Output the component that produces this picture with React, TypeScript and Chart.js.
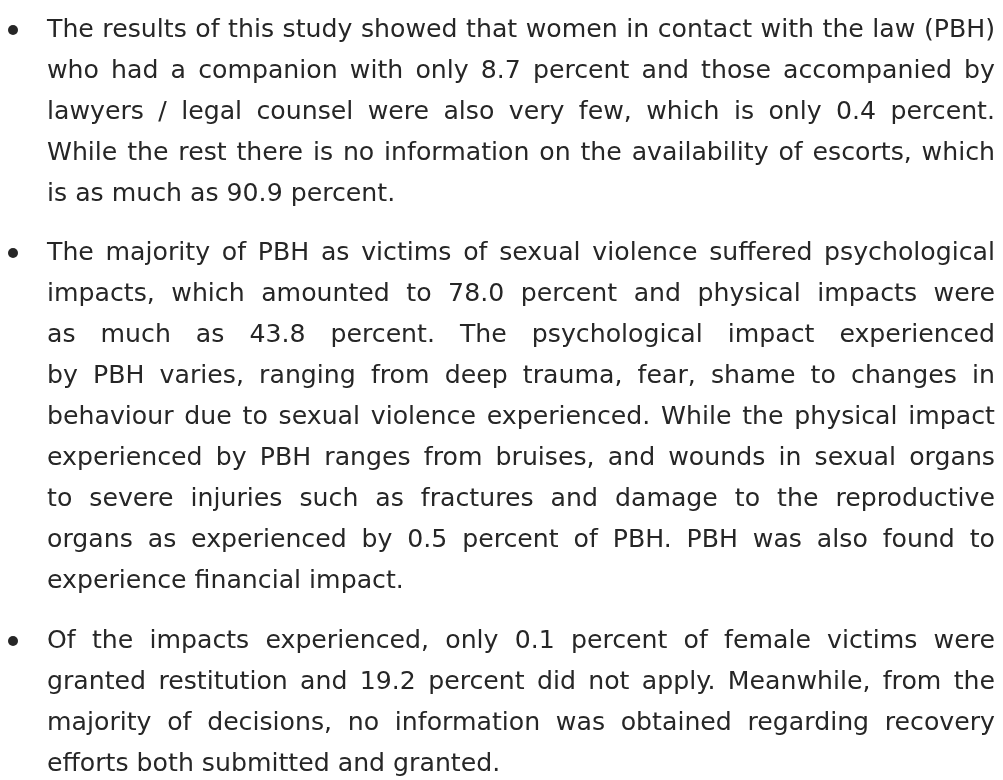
import React, { useEffect, useRef, useState } from "react";
import { Chart, registerables } from "chart.js";

Chart.register(...registerables);

const FONT_FAMILY = '"DejaVu Sans", "Noto Sans", sans-serif';
const FONT_ASCENT = 0.928;
const FONT_DESCENT = 0.236;
const TEXT_COLOR = "#262626";

const paragraph1Lines = [
  "The results of this study showed that women in contact with the law (PBH)",
  "who had a companion with only 8.7 percent and those accompanied by",
  "lawyers / legal counsel were also very few, which is only 0.4 percent.",
  "While the rest there is no information on the availability of escorts, which",
  "is as much as 90.9 percent.",
];

const paragraph2Lines = [
  "The majority of PBH as victims of sexual violence suffered psychological",
  "impacts, which amounted to 78.0 percent and physical impacts were",
  "as much as 43.8 percent. The psychological impact experienced",
  "by PBH varies, ranging from deep trauma, fear, shame to changes in",
  "behaviour due to sexual violence experienced. While the physical impact",
  "experienced by PBH ranges from bruises, and wounds in sexual organs",
  "to severe injuries such as fractures and damage to the reproductive",
  "organs as experienced by 0.5 percent of PBH. PBH was also found to",
  "experience financial impact.",
];

const paragraph3Lines = [
  "Of the impacts experienced, only 0.1 percent of female victims were",
  "granted restitution and 19.2 percent did not apply. Meanwhile, from the",
  "majority of decisions, no information was obtained regarding recovery",
  "efforts both submitted and granted.",
];

const paragraphs = [paragraph1Lines, paragraph2Lines, paragraph3Lines];

const TEXT_LEFT = 47;
const TEXT_WIDTH = 948;
const LINE_HEIGHT = 41;
const PARA_GAP = 18.5;
const BASE_FONT = 23;
const FIRST_BASELINE = 36.8;

export default function App() {
  const canvasRef = useRef<HTMLCanvasElement | null>(null);
  const [fontSize, setFontSize] = useState(BASE_FONT);

  useEffect(() => {
    const c = document.createElement("canvas");
    const ctx = c.getContext("2d");
    if (ctx) {
      ctx.font = `${BASE_FONT}px ${FONT_FAMILY}`;
      let maxW = 0;
      paragraphs.forEach((lines) =>
        lines.slice(0, -1).forEach((l) => {
          maxW = Math.max(maxW, ctx.measureText(l).width);
        })
      );
      if (maxW > 0) {
        const fit = (BASE_FONT * (TEXT_WIDTH - 3)) / maxW;
        setFontSize(Math.min(26, Math.floor(fit * 10) / 10));
      }
    }
  }, []);

  useEffect(() => {
    if (!canvasRef.current) return;
    const chart = new Chart(canvasRef.current, {
      type: "bar",
      data: { labels: [], datasets: [] },
      options: {
        animation: false,
        responsive: false,
        events: [],
        plugins: { legend: { display: false }, tooltip: { enabled: false }, title: { display: false } },
        scales: { x: { display: false }, y: { display: false } },
      },
    });
    return () => chart.destroy();
  }, []);

  const baselineInLine =
    (LINE_HEIGHT - (FONT_ASCENT + FONT_DESCENT) * fontSize) / 2 + FONT_ASCENT * fontSize;

  let top = FIRST_BASELINE - baselineInLine;
  const blocks: React.ReactNode[] = [];
  paragraphs.forEach((lines, pi) => {
    blocks.push(
      <div
        key={`b${pi}`}
        style={{
          position: "absolute",
          left: 8.3,
          top: top + baselineInLine - 7 - 5,
          width: 10,
          height: 10,
          borderRadius: "50%",
          background: TEXT_COLOR,
        }}
      />
    );
    lines.forEach((line, li) => {
      const last = li === lines.length - 1;
      blocks.push(
        <div
          key={`l${pi}-${li}`}
          style={{
            position: "absolute",
            left: TEXT_LEFT,
            top: top,
            width: TEXT_WIDTH,
            height: LINE_HEIGHT,
            lineHeight: `${LINE_HEIGHT}px`,
            whiteSpace: "nowrap",
            textAlign: last ? "left" : "justify",
            textAlignLast: last ? "left" : "justify",
          }}
        >
          {line}
        </div>
      );
      top += LINE_HEIGHT;
    });
    top += PARA_GAP;
  });

  return (
    <div
      style={{
        position: "absolute",
        left: 0,
        top: 0,
        width: 1003,
        height: 780,
        background: "#ffffff",
        fontFamily: FONT_FAMILY,
        fontSize: fontSize,
        color: TEXT_COLOR,
        overflow: "hidden",
      }}
    >
      <canvas
        ref={canvasRef}
        width={1003}
        height={780}
        style={{ position: "absolute", left: 0, top: 0, width: 1003, height: 780, pointerEvents: "none" }}
      />
      {blocks}
    </div>
  );
}
